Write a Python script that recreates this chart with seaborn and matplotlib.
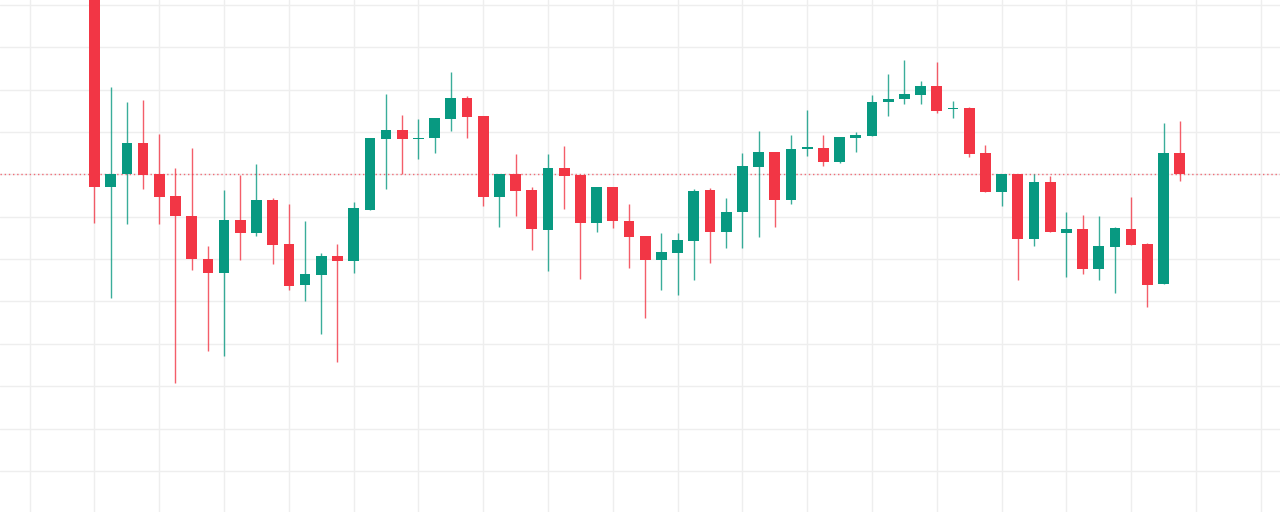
import numpy as np
import pandas as pd
import matplotlib
matplotlib.use("Agg")
import matplotlib.pyplot as plt
import seaborn as sns

# valori OHLC (unitati arbitrare, grila la fiecare 10)
opens = [155.3, 97.0, 100.2, 107.5, 100.0, 94.9, 90.25, 80.1, 76.65, 89.3,
         86.1, 94.0, 83.5, 74.0, 76.2, 80.7, 79.6, 91.6, 108.3, 110.6,
         108.3, 108.5, 113.2, 118.1, 113.8, 94.7, 100.2, 96.3, 86.8, 101.4,
         99.8, 88.5, 97.1, 89.1, 85.5, 79.8, 81.5, 84.3, 96.4, 86.5,
         91.05, 101.75, 105.4, 94.0, 106.1, 106.3, 103.0, 108.6, 109.0, 117.0,
         117.8, 118.8, 120.9, 115.4, 115.6, 105.1, 95.8, 100.1, 84.8, 98.3,
         86.1, 87.2, 77.7, 82.9, 87.2, 83.5, 74.1, 105.05]
highs = [157.7, 120.6, 117.2, 117.5, 109.5, 101.4, 106.3, 83.1, 96.4, 99.9,
         102.5, 94.4, 93.0, 88.9, 81.4, 83.5, 93.5, 108.5, 119.1, 114.0,
         113.1, 113.3, 124.2, 118.5, 113.8, 100.2, 104.8, 97.1, 104.8, 106.8,
         99.8, 97.1, 97.1, 93.0, 85.5, 86.2, 86.2, 96.5, 96.7, 94.4,
         105.1, 110.2, 105.4, 109.2, 115.3, 109.2, 108.8, 110.1, 118.7, 123.6,
         126.9, 122.05, 126.5, 117.4, 116.0, 107.0, 100.1, 100.1, 100.1, 99.6,
         91.05, 90.3, 90.1, 87.65, 94.7, 83.8, 112.1, 112.6]
lows = [88.5, 70.9, 88.2, 96.6, 88.2, 50.7, 77.4, 58.4, 57.2, 79.8,
        85.5, 78.8, 72.8, 70.1, 62.4, 55.6, 76.8, 91.6, 96.5, 100.1,
        103.6, 105.0, 110.2, 108.5, 92.6, 87.7, 90.2, 82.2, 77.1, 91.9,
        75.4, 86.3, 87.3, 77.8, 66.2, 72.7, 71.5, 75.1, 79.0, 82.6,
        82.7, 85.3, 87.5, 93.0, 104.3, 102.05, 102.8, 105.2, 109.0, 113.9,
        116.6, 116.6, 114.4, 113.4, 104.2, 95.8, 92.6, 75.1, 83.1, 86.3,
        75.85, 76.4, 75.1, 72.0, 83.3, 68.6, 74.1, 98.4]
closes = [97.0, 100.2, 107.5, 99.9, 94.7, 90.2, 80.0, 76.65, 89.3, 86.1,
          94.0, 83.4, 73.7, 76.5, 80.7, 79.6, 92.0, 108.5, 110.6, 108.3,
          108.7, 113.3, 118.1, 113.6, 94.7, 100.2, 96.2, 87.0, 101.4, 99.6,
          88.5, 97.1, 89.0, 85.15, 79.8, 81.6, 84.4, 96.15, 86.5, 91.2,
          102.0, 105.4, 94.0, 106.1, 106.4, 103.0, 108.8, 109.2, 117.2, 117.9,
          118.9, 120.9, 115.0, 115.6, 104.9, 95.8, 100.1, 84.8, 98.3, 86.3,
          87.2, 77.7, 83.0, 87.4, 83.3, 73.9, 105.05, 100.1]

df = pd.DataFrame({"open": opens, "high": highs, "low": lows, "close": closes})
df["idx"] = np.arange(len(df))
df["up"] = df["close"] >= df["open"]

UP = "#089981"
DOWN = "#F23645"

sns.set_theme(style="white")

fig = plt.figure(figsize=(12.8, 5.12), dpi=100)
ax = fig.add_axes([0, 0, 1, 1])

colors = np.where(df["up"], UP, DOWN)

# fitilurile (putin mai deschise decat corpul)
ax.vlines(df["idx"], df["low"], df["high"], colors=colors, linewidth=1.0,
          alpha=0.8, zorder=2)

# corpurile
body_low = df[["open", "close"]].min(axis=1)
body_h = (df["close"] - df["open"]).abs().clip(lower=0.3)
ax.bar(df["idx"], body_h, bottom=body_low, width=0.66, color=colors,
       linewidth=0, zorder=3)

# linia pretului curent
ax.axhline(df["close"].iloc[-1], color=DOWN, linewidth=1, linestyle=(0, (1, 2)),
           alpha=0.7, zorder=1)

ax.set_xlim(-5.834, 73.19)
ax.set_ylim(20.29, 141.18)
ax.set_xticks(np.arange(-4, 76, 4))
ax.set_yticks(np.arange(30, 150, 10))
ax.grid(True, color="#eeeeee", linewidth=1)
ax.set_axisbelow(True)
ax.tick_params(length=0, labelleft=False, labelbottom=False)
for s in ax.spines.values():
    s.set_visible(False)

fig.savefig("out.png", dpi=100, facecolor="white")
